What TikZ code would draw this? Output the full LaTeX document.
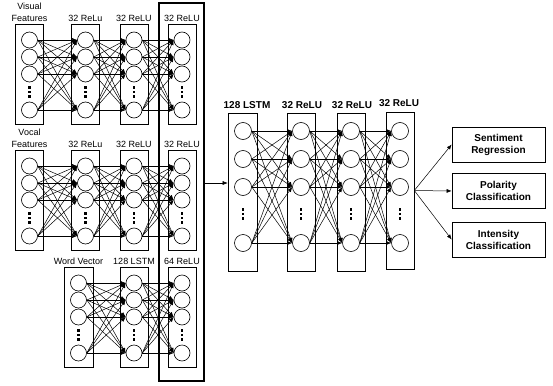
\documentclass[tikz,border=0pt]{standalone}
\usepackage{fontspec}
\setmainfont{Liberation Sans}
\usetikzlibrary{arrows.meta}
\newcommand\mkcol[5]{% #1 name, #2 x, #3 list r/y, #4 dots y, #5 style
  \foreach \r/\yy in {#3} {\node[#5] (#1-\r) at (#2,\yy) {};}
  \foreach \d in {-4.5,0,4.5} {\fill (#2-1.2,#4+\d-1.4) rectangle (#2+1.2,#4+\d+1.4);}
}
\newcommand\mkconn[2]{%
  \foreach \i in {1,2,3,4} {\foreach \j in {1,2,3,4} {\draw[conn] (#1-\i.east) -- (#2-\j.west);}}
}
\begin{document}
\begin{tikzpicture}[x=1pt,y=-1pt,
  neuron/.style={circle,draw,line width=0.6pt,minimum size=16pt,inner sep=0pt},
  bigneuron/.style={neuron,minimum size=17pt},
  layerbox/.style={draw,line width=0.6pt,inner sep=0pt,minimum width=28pt},
  conn/.style={line width=0.5pt,-{Latex[length=5pt,width=4pt]}},
  lbl/.style={font=\fontsize{9}{12}\selectfont,align=center,inner sep=0pt},
  blbl/.style={font=\bfseries\fontsize{10}{12}\selectfont,inner sep=0pt},
  outbox/.style={draw,line width=0.7pt,minimum width=93pt,minimum height=35pt,inner sep=0pt,align=center,font=\bfseries\fontsize{10}{12}\selectfont}
]
\useasboundingbox (0,0) rectangle (553,385);

% big enclosing box
\node[draw,line width=1.1pt,minimum width=45pt,minimum height=378pt,inner sep=0pt] (bigbox) at (181.5,192) {};

% ---- Visual group ----
\node[layerbox,minimum height=100pt] (v1box) at (29.5,74) {};
\node[layerbox,minimum height=100pt] (v2box) at (85.5,74) {};
\node[layerbox,minimum height=100pt] (v3box) at (134,74) {};
\node[layerbox,minimum height=100pt] (v4box) at (182,74) {};
\mkcol{v1}{29.5}{1/40,2/57,3/74,4/110}{92}{neuron}
\mkcol{v2}{85.5}{1/40,2/57,3/74,4/110}{92}{neuron}
\mkcol{v3}{134}{1/40,2/57,3/74,4/110}{92}{neuron}
\mkcol{v4}{182}{1/40,2/57,3/74,4/110}{92}{neuron}
\mkconn{v1}{v2}\mkconn{v2}{v3}\mkconn{v3}{v4}
\node[lbl] (lv1) at (29.5,12) {Visual\\Features};
\node[lbl] (lv2) at (85.5,18) {32 ReLu};
\node[lbl] (lv3) at (134,18) {32 ReLU};
\node[lbl] (lv4) at (182,18) {32 ReLU};

% ---- Vocal group ----
\node[layerbox,minimum height=100pt] (c1box) at (29.5,200) {};
\node[layerbox,minimum height=100pt] (c2box) at (85.5,200) {};
\node[layerbox,minimum height=100pt] (c3box) at (134,200) {};
\node[layerbox,minimum height=100pt] (c4box) at (182,200) {};
\mkcol{c1}{29.5}{1/166,2/183,3/200,4/236}{218}{neuron}
\mkcol{c2}{85.5}{1/166,2/183,3/200,4/236}{218}{neuron}
\mkcol{c3}{134}{1/166,2/183,3/200,4/236}{218}{neuron}
\mkcol{c4}{182}{1/166,2/183,3/200,4/236}{218}{neuron}
\mkconn{c1}{c2}\mkconn{c2}{c3}\mkconn{c3}{c4}
\node[lbl] (lc1) at (29.5,138) {Vocal\\Features};
\node[lbl] (lc2) at (85.5,144) {32 ReLu};
\node[lbl] (lc3) at (134,144) {32 ReLU};
\node[lbl] (lc4) at (182,144) {32 ReLU};

% ---- Word group ----
\node[layerbox,minimum height=100pt,minimum width=29pt] (w1box) at (78.5,317) {};
\node[layerbox,minimum height=100pt] (w2box) at (134,317) {};
\node[layerbox,minimum height=100pt] (w3box) at (182,317) {};
\mkcol{w1}{78.5}{1/283,2/300,3/317,4/353}{335}{neuron}
\mkcol{w2}{134}{1/283,2/300,3/317,4/353}{335}{neuron}
\mkcol{w3}{182}{1/283,2/300,3/317,4/353}{335}{neuron}
\mkconn{w1}{w2}\mkconn{w2}{w3}
\node[lbl] (lw1) at (78.5,261) {Word Vector};
\node[lbl] (lw2) at (134,261) {128 LSTM};
\node[lbl] (lw3) at (182,261) {64 ReLU};

% ---- Right network ----
\node[layerbox,minimum height=158pt,minimum width=29pt] (r1box) at (242.5,192) {};
\node[layerbox,minimum height=158pt] (r2box) at (301,192) {};
\node[layerbox,minimum height=158pt] (r3box) at (351,192) {};
\node[layerbox,minimum height=157pt] (r4box) at (400,190.5) {};
\mkcol{r1}{243}{1/131,2/159,3/187,4/243}{214}{bigneuron}
\mkcol{r2}{301}{1/131,2/159,3/187,4/243}{214}{bigneuron}
\mkcol{r3}{351}{1/131,2/159,3/187,4/243}{214}{bigneuron}
\mkcol{r4}{400}{1/131,2/159,3/187,4/243}{214}{bigneuron}
\mkconn{r1}{r2}\mkconn{r2}{r3}\mkconn{r3}{r4}
\node[blbl] (lr1) at (247,105) {128 LSTM};
\node[blbl] (lr2) at (302,105) {32 ReLU};
\node[blbl] (lr3) at (352,105) {32 ReLU};
\node[blbl] (lr4) at (399,103) {32 ReLU};

% merge arrow
\coordinate (ain) at (204,183);
\draw[conn] (ain) -- (r1box.west |- ain);

% outputs
\node[outbox] (o1) at (498.5,144.5) {Sentiment\\Regression};
\node[outbox] (o2) at (498.5,191) {Polarity\\Classification};
\node[outbox] (o3) at (498.5,239.5) {Intensity\\Classification};
\draw[conn] (r4box.east) -- (o1.west);
\draw[conn] (r4box.east) -- (o2.west);
\draw[conn] (r4box.east) -- (o3.west);
\end{tikzpicture}
\end{document}
